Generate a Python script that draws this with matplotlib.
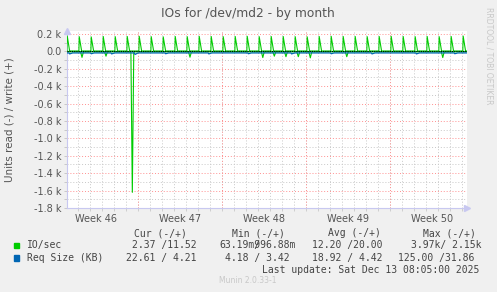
import numpy as np
import matplotlib.pyplot as plt
from matplotlib.ticker import MultipleLocator, FuncFormatter

# time axis: days since Monday of week 47 (00:00)
x_start, x_end = -5.92, 27.42
week_centers = [-3.5, 3.5, 10.5, 17.5, 24.5]
week_labels = ['Week 46', 'Week 47', 'Week 48', 'Week 49', 'Week 50']
week_starts = [0, 7, 14, 21]

# IO/sec write (+): one short burst per day, just after midnight
spike_times = np.arange(-6, 28) + 0.1
spike_heights = [175, 168, 165, 170, 168, 170, 172, 168, 166, 170, 168, 172,
                 170, 168, 170, 172, 168, 170, 170, 168, 166, 170, 172, 170,
                 170, 168, 170, 172, 170, 168, 170, 168, 170, 175]
write_base = 3

# IO/sec read (-): small dips and one large one
dip_times = [-4.67, -2.67, 4.33, 10.4, 11.36, 12.33, 13.36, 14.36, 17.4, 25.4]
dip_values = [-70, -56, -68, -72, -56, -62, -62, -75, -62, -72]
big_dip_time = -0.475
big_dip_value = -1620
read_base = -6

# Req Size (KB)
req_read_base = -19
req_write_base = 4
req_dip_times = [-5.7, -3.9, -2.2, -0.25, 2.3, 5.9, 9.2, 12.8, 16.1, 19.5, 23.2, 26.4]
req_dip_values = [-30, -28, -30, -36, -28, -30, -28, -30, -28, -30, -30, -28]

green = '#00CC00'
blue = '#0066B3'


def pulse_series(base, times, values, rise, fall):
    xs, ys = [x_start], [base]
    for t, v in zip(times, values):
        xs += [t - rise, t, t + fall]
        ys += [base, v, base]
    xs.append(x_end)
    ys.append(base)
    return np.array(xs), np.array(ys)


fig = plt.figure(figsize=(4.97, 2.92), dpi=100, facecolor='#F0F0F0')
ax = fig.add_axes([67 / 497, 1 - 208 / 292, 400 / 497, 177 / 292])
ax.set_facecolor('white')
ax.set_xlim(x_start, x_end)
ax.set_ylim(-1800, 233)

# grid
ax.yaxis.set_major_locator(MultipleLocator(200))
ax.yaxis.set_minor_locator(MultipleLocator(100))
ax.xaxis.set_minor_locator(MultipleLocator(1))
ax.set_xticks(week_centers)
ax.set_xticklabels(week_labels)
ax.grid(which='minor', color='#C8C8C8', linestyle=(0, (1, 2)), linewidth=0.7)
ax.grid(which='major', axis='y', color='#FF9090', linestyle=(0, (1, 2)), linewidth=0.7)
for ws in week_starts:
    ax.axvline(ws, color='#FF9090', linestyle=(0, (1, 2)), linewidth=0.7, zorder=0.9)
ax.set_axisbelow(True)

fmt = FuncFormatter(lambda v, p: '0.0' if abs(v) < 1e-9 else f'{v / 1000:.1f} k')
ax.yaxis.set_major_formatter(fmt)
ax.tick_params(axis='y', which='both', length=2.5, width=0.7, color='#C8C8C8',
               labelsize=7, labelcolor='#555555', pad=1.5)
ax.tick_params(axis='x', which='major', length=0, labelsize=7, labelcolor='#555555', pad=4)
ax.tick_params(axis='x', which='minor', length=2, width=0.6, color='#C8C8C8')

for s in ['top', 'right']:
    ax.spines[s].set_visible(False)
for s in ['left', 'bottom']:
    ax.spines[s].set_color('#C8C8F0')
    ax.spines[s].set_linewidth(0.8)
ax.plot([0], [1], marker='^', color='#C8C8F0', markersize=4, transform=ax.transAxes, clip_on=False)
ax.plot([1], [0], marker='>', color='#C8C8F0', markersize=4, transform=ax.transAxes, clip_on=False)

# series
rx, ry = pulse_series(read_base, dip_times + [big_dip_time],
                      dip_values + [big_dip_value], 0.12, 0.12)
order = np.argsort(rx, kind='stable')
ax.plot(rx[order], ry[order], color=green, linewidth=0.8, zorder=3)
wx, wy = pulse_series(write_base, spike_times, spike_heights, 0.03, 0.2)
ax.plot(wx, wy, color=green, linewidth=0.8, zorder=3)
bx, by = pulse_series(req_read_base, req_dip_times, req_dip_values, 0.05, 0.25)
ax.plot(bx, by, color=blue, linewidth=0.9, zorder=4)
ax.plot([x_start, x_end], [req_write_base, req_write_base], color=blue, linewidth=0.8, zorder=2.5)
ax.axhline(0, color='black', linewidth=0.8, linestyle=(0, (1, 1)), zorder=3.5)


def px(x, y):
    return x / 497, 1 - y / 292


fig.text(*px(248, 14), 'IOs for /dev/md2 - by month', ha='center', va='center',
         fontsize=8.8, color='#555555')
fig.text(*px(10, 120), 'Units read (-) / write (+)', ha='center', va='center',
         rotation=90, fontsize=7.5, color='#555555')
fig.text(*px(489, 56), 'RRDTOOL / TOBI OETIKER', ha='center', va='center',
         rotation=270, fontsize=5.5, color='#C8C8C8')

mono = dict(family='DejaVu Sans Mono', fontsize=7, color='#444444', va='center', ha='left')
headers = ['Cur (-/+)', 'Min (-/+)', 'Avg (-/+)', 'Max (-/+)']
header_x = [134.3, 231.7, 327.7, 423.3]
for h, x in zip(headers, header_x):
    fig.text(*px(x, 233.5), h, **mono)

io_values = ['2.37 /11.52', '63.19m/96.88m', '12.20 /20.00', '3.97k/ 2.15k']
io_x = [131.5, 219.0, 311.7, 410.7]
req_values = ['22.61 / 4.21', '4.18 / 3.42', '18.92 / 4.42', '125.00 /31.86']
req_x = [125.7, 225.0, 311.7, 398.3]

fig.text(*px(26.7, 245.3), 'IO/sec', **mono)
fig.text(*px(26.7, 257.7), 'Req Size (KB)', **mono)
for v, x in zip(io_values, io_x):
    fig.text(*px(x, 245.3), v, **mono)
fig.text(*px(io_x[1], 245.3), '      9', **mono)
for v, x in zip(req_values, req_x):
    fig.text(*px(x, 257.7), v, **mono)

fig.patches.append(plt.Rectangle(px(14, 248), 5.3 / 497, 5.3 / 292, color=green,
                                 transform=fig.transFigure, figure=fig))
fig.patches.append(plt.Rectangle(px(14, 260.5), 5.3 / 497, 5.3 / 292, color=blue,
                                 transform=fig.transFigure, figure=fig))

fig.text(*px(261.7, 270), 'Last update: Sat Dec 13 08:05:00 2025', **mono)
fig.text(*px(248, 280.7), 'Munin 2.0.33-1', ha='center', va='center',
         fontsize=5.5, color='#C8C8C8')

fig.savefig('out.png', dpi=100, facecolor=fig.get_facecolor())
